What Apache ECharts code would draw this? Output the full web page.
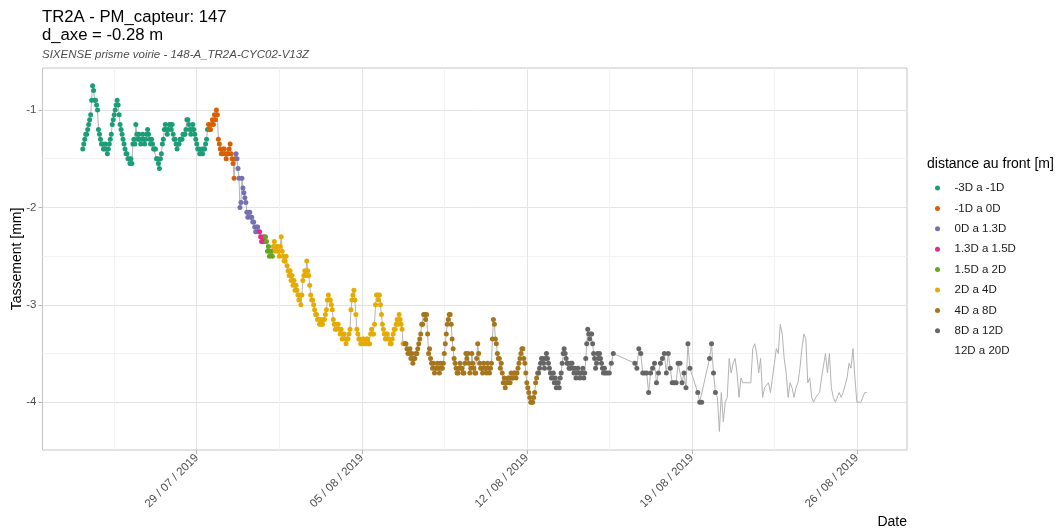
<!DOCTYPE html>
<html>
<head>
<meta charset="utf-8">
<script src="https://cdn.jsdelivr.net/npm/echarts@6/dist/echarts.min.js"></script>
<style>html,body{margin:0;padding:0;background:#fff}#c{width:1060px;height:529px}</style>
</head>
<body>
<div id="c"></div>
<script>
// ---- data: consecutive readings starting 24/07/2019 04:00 UTC ----
const startTime = Date.UTC(2019, 6, 24, 4, 0, 0);

const categories = ['-3D a -1D', '-1D a 0D', '0D a 1.3D', '1.3D a 1.5D', '1.5D a 2D', '2D a 4D', '4D a 8D', '8D a 12D', '12D a 20D'];

// hourly readings
const valsM3to1 = [
  -1.40,-1.35,-1.30,-1.25,-1.25,-1.20,-1.15,-1.10,-1.05,-0.90,
  -0.75,-0.80,-0.90,-0.90,-0.95,-1.00,-1.20,-1.25,-1.30,-1.35,
  -1.35,-1.40,-1.40,-1.35,-1.40,-1.45,-1.40,-1.35,-1.30,-1.25,
  -1.15,-1.10,-1.05,-1.00,-0.95,-0.90,-0.95,-1.05,-1.15,-1.20,
  -1.25,-1.30,-1.35,-1.40,-1.45,-1.45,-1.50,-1.50,-1.55,-1.50,
  -1.55,-1.35,-1.30,-1.35,-1.15,-1.25,-1.30,-1.25,-1.30,-1.35,
  -1.30,-1.25,-1.30,-1.35,-1.30,-1.25,-1.20,-1.25,-1.30,-1.35,
  -1.30,-1.35,-1.40,-1.40,-1.40,-1.50,-1.50,-1.55,-1.60,-1.50,
  -1.45,-1.35,-1.30,-1.20,-1.15,-1.20,-1.25,-1.20,-1.15,-1.15,
  -1.20,-1.15,-1.25,-1.30,-1.30,-1.35,-1.40,-1.35,-1.35,-1.30,
  -1.30,-1.30,-1.25,-1.25,-1.25,-1.20,-1.10,-1.10,-1.15,-1.20,
  -1.25,-1.20,-1.15,-1.20,-1.25,-1.30,-1.35,-1.40,-1.40,-1.45,
  -1.45,-1.40,-1.45,-1.40,-1.40,-1.35,-1.30,-1.20
];
const valsM1to0 = [
  -1.15,-1.20,-1.20,-1.15,-1.10,-1.15,-1.05,-1.10,-1.00,-1.05,
  -1.30,-1.35,-1.40,-1.45,-1.45,-1.40,-1.40,-1.45,-1.50,-1.45,
  -1.45,-1.40,-1.35,-1.45,-1.50,-1.55,-1.70,-1.50
];
const vals0to13 = [
  -1.45,-1.50,-1.60,-1.70,-2.00,-1.95,-1.70,-1.80,-1.85,-1.90,
  -1.95,-2.05,-2.10,-2.05,-2.05,-2.10,-2.10,-2.15,-2.15,-2.20,
  -2.25,-2.20,-2.20,-2.25
];
const vals13to15 = [-2.25,-2.30,-2.35,-2.35,-2.30,-2.35];
const vals15to2 = [-2.30,-2.35,-2.45,-2.40,-2.50,-2.45,-2.45,-2.50];
const vals2to4 = [
  -2.40,-2.35,-2.45,-2.40,-2.40,-2.45,-2.50,-2.40,-2.30,-2.45,
  -2.50,-2.55,-2.55,-2.50,-2.60,-2.65,-2.70,-2.65,-2.75,-2.70,
  -2.80,-2.75,-2.85,-2.80,-2.85,-2.90,-2.95,-2.90,-3.00,-2.90,
  -2.75,-2.70,-2.65,-2.70,-2.55,-2.65,-2.70,-2.80,-2.90,-2.95,
  -2.95,-3.00,-3.05,-3.10,-3.10,-3.15,-3.15,-3.20,-3.15,-3.20,
  -3.20,-3.15,-3.15,-3.10,-3.05,-2.95,-2.90,-2.95,-2.95,-3.00,
  -3.05,-3.15,-3.20,-3.25,-3.25,-3.20,-3.20,-3.25,-3.30,-3.25,
  -3.35,-3.30,-3.30,-3.35,-3.40,-3.35,-3.35,-3.30,-3.25,-3.05,
  -2.95,-2.90,-2.85,-2.95,-3.10,-3.25,-3.30,-3.35,-3.35,-3.40,
  -3.40,-3.35,-3.35,-3.40,-3.40,-3.35,-3.35,-3.40,-3.40,-3.30,
  -3.25,-3.30,-3.30,-3.20,-3.00,-2.90,-2.90,-2.95,-2.90,-3.00,
  -3.10,-3.20,-3.25,-3.30,-3.35,-3.30,-3.30,-3.35,-3.35,-3.40,
  -3.40,-3.35,-3.30,-3.25,-3.25,-3.20,-3.15,-3.20,-3.10,-3.15,
  -3.20,-3.25,-3.40,-3.40
];
const vals4to8 = [
  -3.40,-3.40,-3.45,-3.50,-3.50,-3.45,-3.55,-3.50,-3.60,-3.55,
  -3.55,-3.50,-3.50,-3.45,-3.40,-3.35,-3.30,-3.20,-3.20,-3.10,
  -3.10,-3.15,-3.10,-3.30,-3.50,-3.45,-3.55,-3.60,-3.65,-3.60,
  -3.70,-3.65,-3.65,-3.60,-3.65,-3.70,-3.60,-3.65,-3.65,-3.60,
  -3.50,-3.40,-3.30,-3.20,-3.15,-3.10,-3.10,-3.20,-3.35,-3.45,
  -3.55,-3.60,-3.65,-3.70,-3.70,-3.65,-3.60,-3.65,-3.65,-3.70,
  -3.70,-3.60,-3.50,-3.55,-3.50,-3.60,-3.70,-3.65,-3.50,-3.60,
  -3.65,-3.70,-3.70,-3.55,-3.40,-3.50,-3.60,-3.65,-3.65,-3.70,
  -3.60,-3.65,-3.65,-3.70,-3.60,-3.65,-3.70,-3.65,-3.60,-3.35,
  -3.15,-3.20,-3.35,-3.40,-3.50,-3.55,-3.55,-3.65,-3.60,-3.70,
  -3.80,-3.75,-3.85,-3.80,-3.80,-3.75,-3.75,-3.80,-3.70,-3.75,
  -3.75,-3.70,-3.70,-3.75,-3.70,-3.65,-3.60,-3.55,-3.50,-3.45,
  -3.45,-3.55,-3.60,-3.70,-3.80,-3.85,-3.90,-3.95,-4.00,-4.00,
  -4.00,-3.95,-3.90,-3.80,-3.75,-3.70
];
const vals8to12a = [
  -3.70,-3.65,-3.60,-3.55,-3.55,-3.60,-3.65,-3.55,-3.50,-3.55,
  -3.60,-3.65,-3.70,-3.75,-3.75,-3.70,-3.80,-3.75,-3.85,-3.80,
  -3.80,-3.85,-3.75,-3.70,-3.60,-3.50,-3.45,-3.50,-3.55,-3.60,
  -3.60,-3.65,-3.65,-3.60,-3.60,-3.65,-3.70,-3.65,-3.75,-3.70,
  -3.65,-3.70,-3.75,-3.70,-3.70,-3.65,-3.75,-3.70,-3.55,-3.40,
  -3.25,-3.30,-3.35,-3.30,-3.30,-3.40,-3.50,-3.55,-3.65,-3.60,
  -3.50,-3.55,-3.50,-3.55,-3.60,-3.65,-3.70,-3.65
];
// two-hourly readings (null = no reading)
const vals8to12b = [
  -3.70,-3.70,-3.70,-3.60,-3.50,null,null,null,null,null,
  null,null,null,null,null,-3.60,-3.65,-3.45,-3.50,-3.70,
  -3.70,-3.70,-3.90,-3.70,-3.65,-3.60,-3.80,-3.70,-3.60,-3.55,
  -3.50,-3.70,-3.50,-3.65,-3.80,-3.80,-3.80,-3.60,-3.60,-3.80,
  -3.70,-3.85,-3.40,-3.65,null,null,null,-3.90,-4.00,-4.00,
  null,null,null,-3.55,-3.40,-3.70,-3.90
];
const vals12to20 = [
  -3.95,-4.30,-3.90,-4.20,-4.00,-3.95,-3.55,-3.70,-3.60,-3.55,
  -3.70,-3.95,-3.75,-3.80,-3.80,-3.80,-3.80,-3.80,-3.45,-3.40,
  -3.50,-3.70,-3.55,-3.95,-3.85,-3.85,-3.80,-3.90,-3.90,-3.60,
  -3.45,-3.50,-3.20,-3.30,-3.55,-3.70,-3.95,-3.80,-3.85,-3.95,
  -3.85,-3.80,-3.65,-3.45,-3.30,-3.35,-3.80,-3.75,-3.95,-4.00,
  -3.95,-3.95,-3.90,-3.75,-3.75,-3.50,-3.70,-3.50,-3.85,-3.95,
  -4.00,-4.00,-3.90,-3.95,-3.90,-3.90,-3.75,-3.60,-3.65,-3.45,
  -3.75,-4.00,-4.00,-4.00,-3.95,-3.90,-3.90
];

// [category index, hours between readings, values]
const segments = [
  [0, 1, valsM3to1], [1, 1, valsM1to0], [2, 1, vals0to13], [3, 1, vals13to15], [4, 1, vals15to2],
  [5, 1, vals2to4], [6, 1, vals4to8], [7, 1, vals8to12a], [7, 2, vals8to12b], [8, 2, vals12to20]
];

const xTickDates = ['2019-07-29', '2019-08-05', '2019-08-12', '2019-08-19', '2019-08-26'];
const xMinorDates = ['2019-07-25T12:00:00Z', '2019-08-01T12:00:00Z', '2019-08-08T12:00:00Z', '2019-08-15T12:00:00Z', '2019-08-22T12:00:00Z'];
const yTicks = [-4, -3, -2, -1];
const yMinor = [-3.5, -2.5, -1.5];

// ---- build series data ----
const palette = ['#1B9E77', '#D95F02', '#7570B3', '#E7298A', '#66A61E', '#E6AB02', '#A6761D', '#666666', 'rgba(0,0,0,0)'];
const H = 3600 * 1000;
let t = startTime;
const trace = [];
const pointsByCat = categories.map(() => []);
segments.forEach(([cat, step, vals]) => {
  vals.forEach(v => {
    trace.push([t, v === null ? '-' : v]);
    if (v !== null && cat < 8) pointsByCat[cat].push([t, v]);
    t += step * H;
  });
});

const xMajor = xTickDates.map(d => Date.parse(d + 'T00:00:00Z'));
const xMinor = xMinorDates.map(d => Date.parse(d));
const xMin = Date.UTC(2019, 6, 22, 11, 0);
const xMax = Date.UTC(2019, 7, 28, 3, 0);
const pad = n => (n < 10 ? '0' : '') + n;
const fmtDate = v => { const d = new Date(v); return pad(d.getUTCDate()) + ' / ' + pad(d.getUTCMonth() + 1) + ' / ' + d.getUTCFullYear(); };

const FONT = "'Liberation Sans', Arial, Helvetica, sans-serif";
const chart = echarts.init(document.getElementById('c'), null, { renderer: 'canvas' });

const option = {
  animation: false,
  backgroundColor: '#ffffff',
  textStyle: { fontFamily: FONT },
  title: [
    { text: 'TR2A - PM_capteur: 147\nd_axe = -0.28 m', left: 42, top: 8, padding: 0,
      textStyle: { fontFamily: FONT, fontSize: 16.7, lineHeight: 18, fontWeight: 'normal', color: '#000' } },
    { text: 'SIXENSE prisme voirie - 148-A_TR2A-CYC02-V13Z', left: 42, top: 48, padding: 0,
      textStyle: { fontFamily: FONT, fontSize: 11.5, lineHeight: 13, fontStyle: 'italic', fontWeight: 'normal', color: '#4d4d4d' } },
    { text: 'Date', right: 153, top: 514, padding: 0,
      textStyle: { fontFamily: FONT, fontSize: 14, lineHeight: 16, fontWeight: 'normal', color: '#000' } },
    { text: 'distance au front [m]', left: 927, top: 156, padding: 0,
      textStyle: { fontFamily: FONT, fontSize: 14, lineHeight: 16, fontWeight: 'normal', color: '#000' } }
  ],
  legend: {
    orient: 'vertical', left: 935, top: 181, padding: 0,
    itemWidth: 24, itemHeight: 5, itemGap: 6.4,
    selectedMode: false,
    textStyle: { fontFamily: FONT, fontSize: 11.5, lineHeight: 14, color: '#1a1a1a' },
    data: categories.map((c, k) => k < 8 ? { name: c, icon: 'circle' } : { name: c, icon: 'circle', itemStyle: { opacity: 0 } })
  },
  grid: { left: 42.5, top: 68, width: 864.5, height: 382, containLabel: false, outerBoundsMode: 'none',
    show: true, borderColor: '#c4c4c4', borderWidth: 1, backgroundColor: 'transparent' },
  xAxis: [
    { type: 'value', min: xMin, max: xMax, gridIndex: 0, position: 'bottom', scale: true,
      axisLine: { show: false },
      axisTick: { show: true, customValues: xMajor, length: 4, lineStyle: { color: '#b3b3b3', width: 1 } },
      axisLabel: { show: true, customValues: xMajor, formatter: v => fmtDate(v), rotate: 45, margin: 6,
        fontFamily: FONT, fontSize: 11.5, color: '#4d4d4d' },
      splitLine: { show: true, lineStyle: { color: '#e4e4e4', width: 1 } } },
    { type: 'value', min: xMin, max: xMax, gridIndex: 0, position: 'top', scale: true,
      axisLine: { show: false },
      axisTick: { show: false, customValues: xMinor },
      axisLabel: { show: false, customValues: xMinor },
      splitLine: { show: true, lineStyle: { color: '#f2f2f2', width: 1 } } }
  ],
  yAxis: [
    { type: 'value', min: -4.49, max: -0.569, gridIndex: 0,
      name: 'Tassement [mm]', nameLocation: 'middle', nameRotate: 90, nameGap: 18, nameMoveOverlap: false,
      nameTextStyle: { fontFamily: FONT, fontSize: 14, color: '#000' },
      axisLine: { show: false },
      axisTick: { show: true, customValues: yTicks, length: 4, lineStyle: { color: '#b3b3b3', width: 1 } },
      axisLabel: { show: true, customValues: yTicks, formatter: v => String(v), margin: 6,
        fontFamily: FONT, fontSize: 11.5, color: '#4d4d4d' },
      splitLine: { show: true, lineStyle: { color: '#e4e4e4', width: 1 } } },
    { type: 'value', min: -4.49, max: -0.569, gridIndex: 0, position: 'right',
      axisLine: { show: false },
      axisTick: { show: false, customValues: yMinor },
      axisLabel: { show: false, customValues: yMinor },
      splitLine: { show: true, lineStyle: { color: '#f2f2f2', width: 1 } } }
  ],
  series: [
    { name: 'trace', type: 'line', data: trace, symbol: 'none', showSymbol: false, connectNulls: true,
      lineStyle: { color: '#b3b3b3', width: 1 }, itemStyle: { color: '#b3b3b3' }, silent: true, z: 1 }
  ].concat(categories.map((c, k) => ({
    name: c, type: 'scatter', data: pointsByCat[k], symbolSize: 5, z: 2,
    itemStyle: { color: palette[k], opacity: 1 }
  })))
};
chart.setOption(option);
</script>
</body>
</html>
